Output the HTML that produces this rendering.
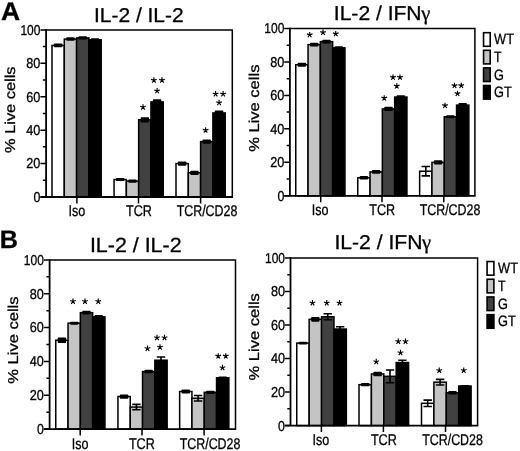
<!DOCTYPE html>
<html><head><meta charset="utf-8"><title>Figure</title>
<style>
html,body{margin:0;padding:0;background:#fff;}
body{width:520px;height:451px;overflow:hidden;font-family:"Liberation Sans", sans-serif;}
svg{display:block;will-change:transform;filter:blur(0.4px);}
svg text{font-family:"Liberation Sans", sans-serif;fill:#000;text-rendering:geometricPrecision;stroke:#000;stroke-width:0.3px;}
</style></head><body>
<svg width="520" height="451" viewBox="0 0 520 451">
<rect x="0" y="0" width="520" height="451" fill="#fff"/>
<g id="AL">
<rect x="52" y="45.44" width="12.3" height="151.56" fill="#ffffff" stroke="#000" stroke-width="1.5"/>
<rect x="64.3" y="39.09" width="12.3" height="157.91" fill="#c4c4c4" stroke="#000" stroke-width="1.5"/>
<rect x="76.6" y="37.92" width="12.3" height="159.08" fill="#414141" stroke="#000" stroke-width="1.5"/>
<rect x="88.9" y="39.76" width="12.3" height="157.24" fill="#000000" stroke="#000" stroke-width="1.5"/>
<rect x="53.95" y="43.5" width="8.4" height="3.87" rx="0.8" fill="#000"/>
<rect x="66.25" y="37.35" width="8.4" height="3.47" rx="0.8" fill="#000"/>
<rect x="78.55" y="36.35" width="8.4" height="3.14" rx="0.8" fill="#000"/>
<rect x="90.85" y="38.27" width="8.4" height="2.97" rx="0.8" fill="#000"/>
<rect x="114.05" y="179.54" width="12.3" height="17.46" fill="#ffffff" stroke="#000" stroke-width="1.5"/>
<rect x="126.35" y="181.13" width="12.3" height="15.87" fill="#c4c4c4" stroke="#000" stroke-width="1.5"/>
<rect x="138.65" y="119.8" width="12.3" height="77.2" fill="#414141" stroke="#000" stroke-width="1.5"/>
<rect x="150.95" y="101.92" width="12.3" height="95.08" fill="#000000" stroke="#000" stroke-width="1.5"/>
<rect x="116" y="178.05" width="8.4" height="2.97" rx="0.8" fill="#000"/>
<rect x="128.3" y="179.39" width="8.4" height="3.47" rx="0.8" fill="#000"/>
<rect x="140.6" y="117.14" width="8.4" height="5.31" rx="0.8" fill="#000"/>
<rect x="152.9" y="99.26" width="8.4" height="5.31" rx="0.8" fill="#000"/>
<rect x="176" y="163.58" width="12.3" height="33.42" fill="#ffffff" stroke="#000" stroke-width="1.5"/>
<rect x="188.3" y="172.77" width="12.3" height="24.23" fill="#c4c4c4" stroke="#000" stroke-width="1.5"/>
<rect x="200.6" y="141.61" width="12.3" height="55.39" fill="#414141" stroke="#000" stroke-width="1.5"/>
<rect x="212.9" y="112.95" width="12.3" height="84.05" fill="#000000" stroke="#000" stroke-width="1.5"/>
<rect x="177.95" y="161.48" width="8.4" height="4.21" rx="0.8" fill="#000"/>
<rect x="190.25" y="170.67" width="8.4" height="4.21" rx="0.8" fill="#000"/>
<rect x="202.55" y="139.45" width="8.4" height="4.31" rx="0.8" fill="#000"/>
<rect x="214.85" y="110.46" width="8.4" height="4.98" rx="0.8" fill="#000"/>
<path d="M46.1 29.9H232.3V197" stroke="#000" stroke-width="1.5" fill="none"/>
<path d="M46.1 29.15V197M40.4 197H233.05" stroke="#000" stroke-width="1.8" fill="none"/>
<path d="M40.4 197H46.1M42.9 180.29H46.1M40.4 163.58H46.1M42.9 146.87H46.1M40.4 130.16H46.1M42.9 113.45H46.1M40.4 96.74H46.1M42.9 80.03H46.1M40.4 63.32H46.1M42.9 46.61H46.1M40.4 29.9H46.1" stroke="#000" stroke-width="1.5" fill="none"/>
<path d="M76.9 197V203.4M138.5 197V203.4M200.6 197V203.4" stroke="#000" stroke-width="1.5" fill="none"/>
<text x="33.5" y="201.9" font-size="14.3" textLength="6.9" lengthAdjust="spacingAndGlyphs">0</text>
<text x="26.3" y="168.48" font-size="14.3" textLength="14.1" lengthAdjust="spacingAndGlyphs">20</text>
<text x="26.3" y="135.06" font-size="14.3" textLength="14.1" lengthAdjust="spacingAndGlyphs">40</text>
<text x="26.3" y="101.64" font-size="14.3" textLength="14.1" lengthAdjust="spacingAndGlyphs">60</text>
<text x="26.3" y="68.22" font-size="14.3" textLength="14.1" lengthAdjust="spacingAndGlyphs">80</text>
<text x="20.4" y="34.8" font-size="14.3" textLength="20.0" lengthAdjust="spacingAndGlyphs">100</text>
<text x="68.45" y="216" font-size="15.5" textLength="16.7" lengthAdjust="spacingAndGlyphs">Iso</text>
<text x="126" y="216" font-size="15.5" textLength="25.9" lengthAdjust="spacingAndGlyphs">TCR</text>
<text x="176.63" y="216" font-size="15.5" textLength="60.71" lengthAdjust="spacingAndGlyphs">TCR/CD28</text>
<text x="94" y="21.5" font-size="20" textLength="89.6" lengthAdjust="spacingAndGlyphs">IL-2 / IL-2</text>
<text transform="translate(14.6 152.95) rotate(-90)" font-size="14.3" textLength="86.5" lengthAdjust="spacingAndGlyphs">% Live cells</text>
<path d="M143 107.18L143 104.23M143 107.18L145.81 106.27M143 107.18L144.73 109.57M143 107.18L141.27 109.57M143 107.18L140.19 106.27" stroke="#000" stroke-width="1.15" fill="none"/>
<path d="M157.1 90.88L157.1 87.93M157.1 90.88L159.91 89.97M157.1 90.88L158.83 93.27M157.1 90.88L155.37 93.27M157.1 90.88L154.29 89.97" stroke="#000" stroke-width="1.15" fill="none"/>
<path d="M153.9 80.28L153.9 77.33M153.9 80.28L156.71 79.37M153.9 80.28L155.63 82.67M153.9 80.28L152.17 82.67M153.9 80.28L151.09 79.37" stroke="#000" stroke-width="1.15" fill="none"/>
<path d="M162 80.28L162 77.33M162 80.28L164.81 79.37M162 80.28L163.73 82.67M162 80.28L160.27 82.67M162 80.28L159.19 79.37" stroke="#000" stroke-width="1.15" fill="none"/>
<path d="M205.6 130.28L205.6 127.33M205.6 130.28L208.41 129.37M205.6 130.28L207.33 132.67M205.6 130.28L203.87 132.67M205.6 130.28L202.79 129.37" stroke="#000" stroke-width="1.15" fill="none"/>
<path d="M219.1 102.78L219.1 99.83M219.1 102.78L221.91 101.87M219.1 102.78L220.83 105.17M219.1 102.78L217.37 105.17M219.1 102.78L216.29 101.87" stroke="#000" stroke-width="1.15" fill="none"/>
<path d="M215.6 94.03L215.6 91.08M215.6 94.03L218.41 93.12M215.6 94.03L217.33 96.42M215.6 94.03L213.87 96.42M215.6 94.03L212.79 93.12" stroke="#000" stroke-width="1.15" fill="none"/>
<path d="M223.1 94.03L223.1 91.08M223.1 94.03L225.91 93.12M223.1 94.03L224.83 96.42M223.1 94.03L221.37 96.42M223.1 94.03L220.29 93.12" stroke="#000" stroke-width="1.15" fill="none"/>
</g>
<g id="AR">
<rect x="295.75" y="64.74" width="12.3" height="131.11" fill="#ffffff" stroke="#000" stroke-width="1.5"/>
<rect x="308.05" y="44.64" width="12.3" height="151.21" fill="#c4c4c4" stroke="#000" stroke-width="1.5"/>
<rect x="320.35" y="41.63" width="12.3" height="154.22" fill="#414141" stroke="#000" stroke-width="1.5"/>
<rect x="332.65" y="47.82" width="12.3" height="148.03" fill="#000000" stroke="#000" stroke-width="1.5"/>
<rect x="297.7" y="62.75" width="8.4" height="3.98" rx="0.8" fill="#000"/>
<rect x="310" y="42.82" width="8.4" height="3.64" rx="0.8" fill="#000"/>
<rect x="322.3" y="39.64" width="8.4" height="3.98" rx="0.8" fill="#000"/>
<rect x="334.6" y="46.17" width="8.4" height="3.31" rx="0.8" fill="#000"/>
<rect x="357.75" y="177.77" width="12.3" height="18.08" fill="#ffffff" stroke="#000" stroke-width="1.5"/>
<rect x="370.05" y="171.9" width="12.3" height="23.95" fill="#c4c4c4" stroke="#000" stroke-width="1.5"/>
<rect x="382.35" y="108.94" width="12.3" height="86.91" fill="#414141" stroke="#000" stroke-width="1.5"/>
<rect x="394.65" y="97.05" width="12.3" height="98.8" fill="#000000" stroke="#000" stroke-width="1.5"/>
<rect x="359.7" y="175.94" width="8.4" height="3.64" rx="0.8" fill="#000"/>
<rect x="372" y="170.08" width="8.4" height="3.64" rx="0.8" fill="#000"/>
<rect x="384.3" y="106.79" width="8.4" height="4.31" rx="0.8" fill="#000"/>
<rect x="396.6" y="95.23" width="8.4" height="3.64" rx="0.8" fill="#000"/>
<rect x="419.65" y="171.23" width="12.3" height="24.62" fill="#ffffff" stroke="#000" stroke-width="1.5"/>
<rect x="431.95" y="162.36" width="12.3" height="33.49" fill="#c4c4c4" stroke="#000" stroke-width="1.5"/>
<rect x="444.25" y="116.81" width="12.3" height="79.04" fill="#414141" stroke="#000" stroke-width="1.5"/>
<rect x="456.55" y="105.09" width="12.3" height="90.76" fill="#000000" stroke="#000" stroke-width="1.5"/>
<path d="M425.8 166.55V175.92M421.6 166.55H430M421.6 175.92H430" stroke="#000" stroke-width="1.6" fill="none"/>
<rect x="433.9" y="160.2" width="8.4" height="4.31" rx="0.8" fill="#000"/>
<rect x="446.2" y="115.33" width="8.4" height="2.97" rx="0.8" fill="#000"/>
<rect x="458.5" y="102.94" width="8.4" height="4.31" rx="0.8" fill="#000"/>
<path d="M289.9 28.4H474.9V195.85" stroke="#000" stroke-width="1.5" fill="none"/>
<path d="M289.9 27.65V195.85M284.2 195.85H475.65" stroke="#000" stroke-width="1.8" fill="none"/>
<path d="M284.2 195.85H289.9M286.7 179.1H289.9M284.2 162.36H289.9M286.7 145.62H289.9M284.2 128.87H289.9M286.7 112.12H289.9M284.2 95.38H289.9M286.7 78.64H289.9M284.2 61.89H289.9M286.7 45.15H289.9M284.2 28.4H289.9" stroke="#000" stroke-width="1.5" fill="none"/>
<path d="M320.7 195.85V202.25M382 195.85V202.25M443.8 195.85V202.25" stroke="#000" stroke-width="1.5" fill="none"/>
<text x="277.4" y="200.75" font-size="14.3" textLength="6.9" lengthAdjust="spacingAndGlyphs">0</text>
<text x="270.2" y="167.26" font-size="14.3" textLength="14.1" lengthAdjust="spacingAndGlyphs">20</text>
<text x="270.2" y="133.77" font-size="14.3" textLength="14.1" lengthAdjust="spacingAndGlyphs">40</text>
<text x="270.2" y="100.28" font-size="14.3" textLength="14.1" lengthAdjust="spacingAndGlyphs">60</text>
<text x="270.2" y="66.79" font-size="14.3" textLength="14.1" lengthAdjust="spacingAndGlyphs">80</text>
<text x="264.3" y="33.3" font-size="14.3" textLength="20.0" lengthAdjust="spacingAndGlyphs">100</text>
<text x="311.75" y="214.8" font-size="15.5" textLength="16.7" lengthAdjust="spacingAndGlyphs">Iso</text>
<text x="369.3" y="214.8" font-size="15.5" textLength="25.9" lengthAdjust="spacingAndGlyphs">TCR</text>
<text x="419.63" y="214.8" font-size="15.5" textLength="60.71" lengthAdjust="spacingAndGlyphs">TCR/CD28</text>
<text x="333.8" y="19.5" font-size="20" textLength="87.8" lengthAdjust="spacingAndGlyphs">IL-2 / IFN</text>
<text x="421.2" y="19.6" font-size="20.5" style="font-family:'Liberation Serif',serif">γ</text>
<text transform="translate(258.9 151.8) rotate(-90)" font-size="14.3" textLength="87.2" lengthAdjust="spacingAndGlyphs">% Live cells</text>
<path d="M309.7 34.83L309.7 31.88M309.7 34.83L312.51 33.92M309.7 34.83L311.43 37.22M309.7 34.83L307.97 37.22M309.7 34.83L306.89 33.92" stroke="#000" stroke-width="1.15" fill="none"/>
<path d="M323 32.53L323 29.58M323 32.53L325.81 31.62M323 32.53L324.73 34.92M323 32.53L321.27 34.92M323 32.53L320.19 31.62" stroke="#000" stroke-width="1.15" fill="none"/>
<path d="M335.75 33.83L335.75 30.88M335.75 33.83L338.56 32.92M335.75 33.83L337.48 36.22M335.75 33.83L334.02 36.22M335.75 33.83L332.94 32.92" stroke="#000" stroke-width="1.15" fill="none"/>
<path d="M384.25 98.08L384.25 95.13M384.25 98.08L387.06 97.17M384.25 98.08L385.98 100.47M384.25 98.08L382.52 100.47M384.25 98.08L381.44 97.17" stroke="#000" stroke-width="1.15" fill="none"/>
<path d="M396.75 86.08L396.75 83.13M396.75 86.08L399.56 85.17M396.75 86.08L398.48 88.47M396.75 86.08L395.02 88.47M396.75 86.08L393.94 85.17" stroke="#000" stroke-width="1.15" fill="none"/>
<path d="M393 77.33L393 74.38M393 77.33L395.81 76.42M393 77.33L394.73 79.72M393 77.33L391.27 79.72M393 77.33L390.19 76.42" stroke="#000" stroke-width="1.15" fill="none"/>
<path d="M400 77.33L400 74.38M400 77.33L402.81 76.42M400 77.33L401.73 79.72M400 77.33L398.27 79.72M400 77.33L397.19 76.42" stroke="#000" stroke-width="1.15" fill="none"/>
<path d="M445 105.58L445 102.63M445 105.58L447.81 104.67M445 105.58L446.73 107.97M445 105.58L443.27 107.97M445 105.58L442.19 104.67" stroke="#000" stroke-width="1.15" fill="none"/>
<path d="M457.5 93.58L457.5 90.63M457.5 93.58L460.31 92.67M457.5 93.58L459.23 95.97M457.5 93.58L455.77 95.97M457.5 93.58L454.69 92.67" stroke="#000" stroke-width="1.15" fill="none"/>
<path d="M454.5 85.58L454.5 82.63M454.5 85.58L457.31 84.67M454.5 85.58L456.23 87.97M454.5 85.58L452.77 87.97M454.5 85.58L451.69 84.67" stroke="#000" stroke-width="1.15" fill="none"/>
<path d="M461.25 85.58L461.25 82.63M461.25 85.58L464.06 84.67M461.25 85.58L462.98 87.97M461.25 85.58L459.52 87.97M461.25 85.58L458.44 84.67" stroke="#000" stroke-width="1.15" fill="none"/>
<rect x="483.55" y="32.7" width="6.65" height="13.6" fill="#ffffff" stroke="#000" stroke-width="1.6"/>
<text x="494.1" y="44.35" font-size="15" textLength="19.9" lengthAdjust="spacingAndGlyphs">WT</text>
<rect x="483.55" y="50.3" width="6.65" height="13.6" fill="#c4c4c4" stroke="#000" stroke-width="1.6"/>
<text x="494.1" y="61.95" font-size="15" textLength="7.5" lengthAdjust="spacingAndGlyphs">T</text>
<rect x="483.55" y="67.9" width="6.65" height="13.6" fill="#414141" stroke="#000" stroke-width="1.6"/>
<text x="494.1" y="79.55" font-size="15" textLength="9.9" lengthAdjust="spacingAndGlyphs">G</text>
<rect x="483.55" y="85.5" width="6.65" height="13.6" fill="#000000" stroke="#000" stroke-width="1.6"/>
<text x="494.1" y="97.15" font-size="15" textLength="17.7" lengthAdjust="spacingAndGlyphs">GT</text>
</g>
<g id="BL">
<rect x="55.75" y="340.25" width="12.3" height="88.8" fill="#ffffff" stroke="#000" stroke-width="1.5"/>
<rect x="68.05" y="323.16" width="12.3" height="105.89" fill="#c4c4c4" stroke="#000" stroke-width="1.5"/>
<rect x="80.35" y="312.67" width="12.3" height="116.38" fill="#414141" stroke="#000" stroke-width="1.5"/>
<rect x="92.65" y="316.9" width="12.3" height="112.15" fill="#000000" stroke="#000" stroke-width="1.5"/>
<rect x="57.7" y="337.4" width="8.4" height="5.7" rx="0.8" fill="#000"/>
<rect x="70" y="321.67" width="8.4" height="2.99" rx="0.8" fill="#000"/>
<rect x="82.3" y="310.84" width="8.4" height="3.67" rx="0.8" fill="#000"/>
<rect x="94.6" y="314.9" width="8.4" height="4.01" rx="0.8" fill="#000"/>
<rect x="117.95" y="396.57" width="12.3" height="32.48" fill="#ffffff" stroke="#000" stroke-width="1.5"/>
<rect x="130.25" y="407.06" width="12.3" height="21.99" fill="#c4c4c4" stroke="#000" stroke-width="1.5"/>
<rect x="142.55" y="371.54" width="12.3" height="57.51" fill="#414141" stroke="#000" stroke-width="1.5"/>
<rect x="154.85" y="360.21" width="12.3" height="68.84" fill="#000000" stroke="#000" stroke-width="1.5"/>
<rect x="119.9" y="394.4" width="8.4" height="4.34" rx="0.8" fill="#000"/>
<path d="M136.4 404.35V409.77M132.2 404.35H140.6M132.2 409.77H140.6" stroke="#000" stroke-width="1.6" fill="none"/>
<rect x="144.5" y="369.87" width="8.4" height="3.33" rx="0.8" fill="#000"/>
<path d="M161 356.99V363.42M156.8 356.99H165.2M156.8 363.42H165.2" stroke="#000" stroke-width="1.6" fill="none"/>
<rect x="179.65" y="391.5" width="12.3" height="37.55" fill="#ffffff" stroke="#000" stroke-width="1.5"/>
<rect x="191.95" y="398.26" width="12.3" height="30.79" fill="#c4c4c4" stroke="#000" stroke-width="1.5"/>
<rect x="204.25" y="392.34" width="12.3" height="36.71" fill="#414141" stroke="#000" stroke-width="1.5"/>
<rect x="216.55" y="377.8" width="12.3" height="51.25" fill="#000000" stroke="#000" stroke-width="1.5"/>
<rect x="181.6" y="389.5" width="8.4" height="4.01" rx="0.8" fill="#000"/>
<path d="M198.1 395.56V400.97M193.9 395.56H202.3M193.9 400.97H202.3" stroke="#000" stroke-width="1.6" fill="none"/>
<rect x="206.2" y="390.68" width="8.4" height="3.33" rx="0.8" fill="#000"/>
<rect x="218.5" y="376.47" width="8.4" height="2.65" rx="0.8" fill="#000"/>
<path d="M49.6 259.9H235.5V429.05" stroke="#000" stroke-width="1.5" fill="none"/>
<path d="M49.6 259.15V429.05M43.9 429.05H236.25" stroke="#000" stroke-width="1.8" fill="none"/>
<path d="M43.9 429.05H49.6M46.4 412.13H49.6M43.9 395.22H49.6M46.4 378.31H49.6M43.9 361.39H49.6M46.4 344.48H49.6M43.9 327.56H49.6M46.4 310.64H49.6M43.9 293.73H49.6M46.4 276.81H49.6M43.9 259.9H49.6" stroke="#000" stroke-width="1.5" fill="none"/>
<path d="M80.2 429.05V435.45M142 429.05V435.45M204.1 429.05V435.45" stroke="#000" stroke-width="1.5" fill="none"/>
<text x="36.9" y="433.95" font-size="14.3" textLength="6.9" lengthAdjust="spacingAndGlyphs">0</text>
<text x="29.7" y="400.12" font-size="14.3" textLength="14.1" lengthAdjust="spacingAndGlyphs">20</text>
<text x="29.7" y="366.29" font-size="14.3" textLength="14.1" lengthAdjust="spacingAndGlyphs">40</text>
<text x="29.7" y="332.46" font-size="14.3" textLength="14.1" lengthAdjust="spacingAndGlyphs">60</text>
<text x="29.7" y="298.63" font-size="14.3" textLength="14.1" lengthAdjust="spacingAndGlyphs">80</text>
<text x="23.8" y="264.8" font-size="14.3" textLength="20.0" lengthAdjust="spacingAndGlyphs">100</text>
<text x="71.7" y="448.8" font-size="15.5" textLength="16.7" lengthAdjust="spacingAndGlyphs">Iso</text>
<text x="128.9" y="448.8" font-size="15.5" textLength="25.9" lengthAdjust="spacingAndGlyphs">TCR</text>
<text x="179.68" y="448.8" font-size="15.5" textLength="60.71" lengthAdjust="spacingAndGlyphs">TCR/CD28</text>
<text x="89.9" y="252.2" font-size="20.5" textLength="91.7" lengthAdjust="spacingAndGlyphs">IL-2 / IL-2</text>
<text transform="translate(18.1 383.75) rotate(-90)" font-size="14.3" textLength="87.3" lengthAdjust="spacingAndGlyphs">% Live cells</text>
<path d="M73 301.43L73 298.48M73 301.43L75.81 300.52M73 301.43L74.73 303.82M73 301.43L71.27 303.82M73 301.43L70.19 300.52" stroke="#000" stroke-width="1.15" fill="none"/>
<path d="M85 301.43L85 298.48M85 301.43L87.81 300.52M85 301.43L86.73 303.82M85 301.43L83.27 303.82M85 301.43L82.19 300.52" stroke="#000" stroke-width="1.15" fill="none"/>
<path d="M98.25 301.43L98.25 298.48M98.25 301.43L101.06 300.52M98.25 301.43L99.98 303.82M98.25 301.43L96.52 303.82M98.25 301.43L95.44 300.52" stroke="#000" stroke-width="1.15" fill="none"/>
<path d="M147.5 348.43L147.5 345.48M147.5 348.43L150.31 347.52M147.5 348.43L149.23 350.82M147.5 348.43L145.77 350.82M147.5 348.43L144.69 347.52" stroke="#000" stroke-width="1.15" fill="none"/>
<path d="M160 347.18L160 344.23M160 347.18L162.81 346.27M160 347.18L161.73 349.57M160 347.18L158.27 349.57M160 347.18L157.19 346.27" stroke="#000" stroke-width="1.15" fill="none"/>
<path d="M157 337.68L157 334.73M157 337.68L159.81 336.77M157 337.68L158.73 340.07M157 337.68L155.27 340.07M157 337.68L154.19 336.77" stroke="#000" stroke-width="1.15" fill="none"/>
<path d="M164.5 337.68L164.5 334.73M164.5 337.68L167.31 336.77M164.5 337.68L166.23 340.07M164.5 337.68L162.77 340.07M164.5 337.68L161.69 336.77" stroke="#000" stroke-width="1.15" fill="none"/>
<path d="M222.5 367.68L222.5 364.73M222.5 367.68L225.31 366.77M222.5 367.68L224.23 370.07M222.5 367.68L220.77 370.07M222.5 367.68L219.69 366.77" stroke="#000" stroke-width="1.15" fill="none"/>
<path d="M218.25 356.08L218.25 353.13M218.25 356.08L221.06 355.17M218.25 356.08L219.98 358.47M218.25 356.08L216.52 358.47M218.25 356.08L215.44 355.17" stroke="#000" stroke-width="1.15" fill="none"/>
<path d="M225.75 356.08L225.75 353.13M225.75 356.08L228.56 355.17M225.75 356.08L227.48 358.47M225.75 356.08L224.02 358.47M225.75 356.08L222.94 355.17" stroke="#000" stroke-width="1.15" fill="none"/>
</g>
<g id="BR">
<rect x="296.75" y="343.12" width="12.4" height="82.48" fill="#ffffff" stroke="#000" stroke-width="1.5"/>
<rect x="309.15" y="319.31" width="12.4" height="106.29" fill="#c4c4c4" stroke="#000" stroke-width="1.5"/>
<rect x="321.55" y="316.8" width="12.4" height="108.8" fill="#414141" stroke="#000" stroke-width="1.5"/>
<rect x="333.95" y="329.03" width="12.4" height="96.57" fill="#000000" stroke="#000" stroke-width="1.5"/>
<rect x="298.75" y="341.63" width="8.4" height="2.98" rx="0.8" fill="#000"/>
<rect x="311.15" y="316.98" width="8.4" height="4.65" rx="0.8" fill="#000"/>
<path d="M327.75 313.78V319.81M323.55 313.78H331.95M323.55 319.81H331.95" stroke="#000" stroke-width="1.6" fill="none"/>
<path d="M340.15 326.69V331.38M335.95 326.69H344.35M335.95 331.38H344.35" stroke="#000" stroke-width="1.6" fill="none"/>
<rect x="359" y="384.69" width="12.4" height="40.91" fill="#ffffff" stroke="#000" stroke-width="1.5"/>
<rect x="371.4" y="373.96" width="12.4" height="51.64" fill="#c4c4c4" stroke="#000" stroke-width="1.5"/>
<rect x="383.8" y="376.31" width="12.4" height="49.29" fill="#414141" stroke="#000" stroke-width="1.5"/>
<rect x="396.2" y="362.56" width="12.4" height="63.04" fill="#000000" stroke="#000" stroke-width="1.5"/>
<rect x="361" y="383.04" width="8.4" height="3.31" rx="0.8" fill="#000"/>
<rect x="373.4" y="371.64" width="8.4" height="4.65" rx="0.8" fill="#000"/>
<path d="M390 369.94V382.68M385.8 369.94H394.2M385.8 382.68H394.2" stroke="#000" stroke-width="1.6" fill="none"/>
<path d="M402.4 360.22V364.91M398.2 360.22H406.6M398.2 364.91H406.6" stroke="#000" stroke-width="1.6" fill="none"/>
<rect x="421.5" y="403.3" width="12.4" height="22.3" fill="#ffffff" stroke="#000" stroke-width="1.5"/>
<rect x="433.9" y="382.18" width="12.4" height="43.42" fill="#c4c4c4" stroke="#000" stroke-width="1.5"/>
<rect x="446.3" y="392.74" width="12.4" height="32.86" fill="#414141" stroke="#000" stroke-width="1.5"/>
<rect x="458.7" y="386.03" width="12.4" height="39.57" fill="#000000" stroke="#000" stroke-width="1.5"/>
<path d="M427.7 400.12V406.49M423.5 400.12H431.9M423.5 406.49H431.9" stroke="#000" stroke-width="1.6" fill="none"/>
<path d="M440.1 379.33V385.03M435.9 379.33H444.3M435.9 385.03H444.3" stroke="#000" stroke-width="1.6" fill="none"/>
<rect x="448.3" y="390.92" width="8.4" height="3.65" rx="0.8" fill="#000"/>
<rect x="460.7" y="384.88" width="8.4" height="2.31" rx="0.8" fill="#000"/>
<path d="M290.5 257.95H477.6V425.6" stroke="#000" stroke-width="1.5" fill="none"/>
<path d="M290.5 257.2V425.6M284.8 425.6H478.35" stroke="#000" stroke-width="1.8" fill="none"/>
<path d="M284.8 425.6H290.5M287.3 408.84H290.5M284.8 392.07H290.5M287.3 375.31H290.5M284.8 358.54H290.5M287.3 341.77H290.5M284.8 325.01H290.5M287.3 308.25H290.5M284.8 291.48H290.5M287.3 274.72H290.5M284.8 257.95H290.5" stroke="#000" stroke-width="1.5" fill="none"/>
<path d="M321.4 425.6V432M383.4 425.6V432M445.5 425.6V432" stroke="#000" stroke-width="1.5" fill="none"/>
<text x="278.1" y="430.5" font-size="14.3" textLength="6.9" lengthAdjust="spacingAndGlyphs">0</text>
<text x="270.9" y="396.97" font-size="14.3" textLength="14.1" lengthAdjust="spacingAndGlyphs">20</text>
<text x="270.9" y="363.44" font-size="14.3" textLength="14.1" lengthAdjust="spacingAndGlyphs">40</text>
<text x="270.9" y="329.91" font-size="14.3" textLength="14.1" lengthAdjust="spacingAndGlyphs">60</text>
<text x="270.9" y="296.38" font-size="14.3" textLength="14.1" lengthAdjust="spacingAndGlyphs">80</text>
<text x="265" y="262.85" font-size="14.3" textLength="20.0" lengthAdjust="spacingAndGlyphs">100</text>
<text x="312.55" y="444.6" font-size="15.5" textLength="16.7" lengthAdjust="spacingAndGlyphs">Iso</text>
<text x="370.9" y="444.6" font-size="15.5" textLength="25.9" lengthAdjust="spacingAndGlyphs">TCR</text>
<text x="422.18" y="444.6" font-size="15.5" textLength="60.71" lengthAdjust="spacingAndGlyphs">TCR/CD28</text>
<text x="334.5" y="248.5" font-size="20" textLength="87.9" lengthAdjust="spacingAndGlyphs">IL-2 / IFN</text>
<text x="422" y="248.6" font-size="20.5" style="font-family:'Liberation Serif',serif">γ</text>
<text transform="translate(258.9 380.45) rotate(-90)" font-size="14.3" textLength="87.3" lengthAdjust="spacingAndGlyphs">% Live cells</text>
<path d="M312.5 302.93L312.5 299.98M312.5 302.93L315.31 302.02M312.5 302.93L314.23 305.32M312.5 302.93L310.77 305.32M312.5 302.93L309.69 302.02" stroke="#000" stroke-width="1.15" fill="none"/>
<path d="M326.75 302.93L326.75 299.98M326.75 302.93L329.56 302.02M326.75 302.93L328.48 305.32M326.75 302.93L325.02 305.32M326.75 302.93L323.94 302.02" stroke="#000" stroke-width="1.15" fill="none"/>
<path d="M339.5 302.93L339.5 299.98M339.5 302.93L342.31 302.02M339.5 302.93L341.23 305.32M339.5 302.93L337.77 305.32M339.5 302.93L336.69 302.02" stroke="#000" stroke-width="1.15" fill="none"/>
<path d="M376.25 361.68L376.25 358.73M376.25 361.68L379.06 360.77M376.25 361.68L377.98 364.07M376.25 361.68L374.52 364.07M376.25 361.68L373.44 360.77" stroke="#000" stroke-width="1.15" fill="none"/>
<path d="M400.5 352.68L400.5 349.73M400.5 352.68L403.31 351.77M400.5 352.68L402.23 355.07M400.5 352.68L398.77 355.07M400.5 352.68L397.69 351.77" stroke="#000" stroke-width="1.15" fill="none"/>
<path d="M398.25 341.43L398.25 338.48M398.25 341.43L401.06 340.52M398.25 341.43L399.98 343.82M398.25 341.43L396.52 343.82M398.25 341.43L395.44 340.52" stroke="#000" stroke-width="1.15" fill="none"/>
<path d="M405.5 341.43L405.5 338.48M405.5 341.43L408.31 340.52M405.5 341.43L407.23 343.82M405.5 341.43L403.77 343.82M405.5 341.43L402.69 340.52" stroke="#000" stroke-width="1.15" fill="none"/>
<path d="M439.25 370.43L439.25 367.48M439.25 370.43L442.06 369.52M439.25 370.43L440.98 372.82M439.25 370.43L437.52 372.82M439.25 370.43L436.44 369.52" stroke="#000" stroke-width="1.15" fill="none"/>
<path d="M463.75 370.43L463.75 367.48M463.75 370.43L466.56 369.52M463.75 370.43L465.48 372.82M463.75 370.43L462.02 372.82M463.75 370.43L460.94 369.52" stroke="#000" stroke-width="1.15" fill="none"/>
<rect x="487.1" y="261.55" width="6.8" height="13.6" fill="#ffffff" stroke="#000" stroke-width="1.6"/>
<text x="498.1" y="273.2" font-size="15" textLength="19.9" lengthAdjust="spacingAndGlyphs">WT</text>
<rect x="487.1" y="279.25" width="6.8" height="13.6" fill="#c4c4c4" stroke="#000" stroke-width="1.6"/>
<text x="498.1" y="290.9" font-size="15" textLength="7.5" lengthAdjust="spacingAndGlyphs">T</text>
<rect x="487.1" y="296.95" width="6.8" height="13.6" fill="#414141" stroke="#000" stroke-width="1.6"/>
<text x="498.1" y="308.6" font-size="15" textLength="9.9" lengthAdjust="spacingAndGlyphs">G</text>
<rect x="487.1" y="314.65" width="6.8" height="13.6" fill="#000000" stroke="#000" stroke-width="1.6"/>
<text x="498.1" y="326.3" font-size="15" textLength="17.7" lengthAdjust="spacingAndGlyphs">GT</text>
</g>
<text x="1.0" y="20.1" font-size="25.5" font-weight="bold" textLength="19.1" lengthAdjust="spacingAndGlyphs">A</text>
<text x="-0.3" y="247.7" font-size="25.2" font-weight="bold">B</text>
</svg>
</body></html>
